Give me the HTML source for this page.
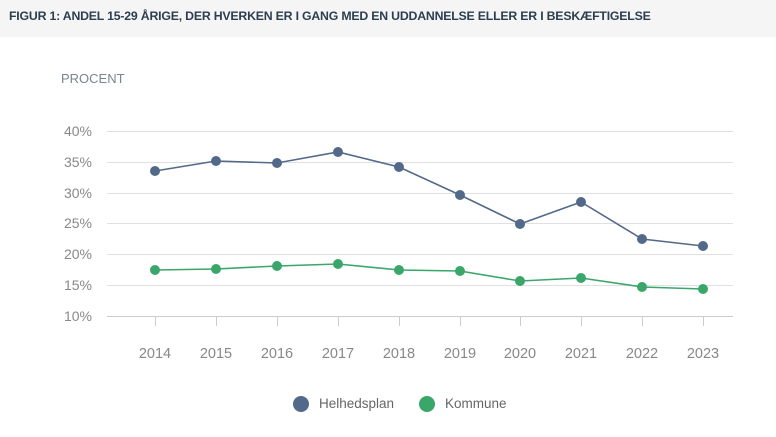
<!DOCTYPE html>
<html><head><style>
body{margin:0;width:776px;height:437px;background:#fff;overflow:hidden;font-family:"Liberation Sans",sans-serif}
.hd{position:absolute;left:0;top:0;width:776px;height:37px;background:#f5f5f5;}
.hd span{position:absolute;left:9px;top:9px;font-size:12.3px;font-weight:bold;color:#2c3e50;letter-spacing:-0.2px;white-space:nowrap}
</style></head><body>
<div class="hd"><span>FIGUR 1: ANDEL 15-29 ÅRIGE, DER HVERKEN ER I GANG MED EN UDDANNELSE ELLER ER I BESKÆFTIGELSE</span></div>
<svg width="776" height="437" style="position:absolute;left:0;top:0">
<g font-family="Liberation Sans,sans-serif" fill="#888" font-size="14">
<text x="61" y="83" font-size="13" fill="#7a8591">PROCENT</text>
<g stroke="#e0e0e0" stroke-width="1">
<line x1="107" x2="733" y1="131.5" y2="131.5"/><line x1="107" x2="733" y1="162.5" y2="162.5"/>
<line x1="107" x2="733" y1="193.5" y2="193.5"/><line x1="107" x2="733" y1="223.5" y2="223.5"/>
<line x1="107" x2="733" y1="254.5" y2="254.5"/><line x1="107" x2="733" y1="285.5" y2="285.5"/>
<line x1="107" x2="733" y1="316.5" y2="316.5" stroke="#ccc"/>
</g>
<g text-anchor="end">
<text x="92" y="136">40%</text><text x="92" y="167">35%</text><text x="92" y="198">30%</text>
<text x="92" y="228">25%</text><text x="92" y="259">20%</text><text x="92" y="290">15%</text><text x="92" y="321">10%</text>
</g>
<g stroke="#ccc"><line x1="155.5" x2="155.5" y1="316" y2="326"/><line x1="216.5" x2="216.5" y1="316" y2="326"/><line x1="277.5" x2="277.5" y1="316" y2="326"/><line x1="338.5" x2="338.5" y1="316" y2="326"/><line x1="399.5" x2="399.5" y1="316" y2="326"/><line x1="460.5" x2="460.5" y1="316" y2="326"/><line x1="520.5" x2="520.5" y1="316" y2="326"/><line x1="581.5" x2="581.5" y1="316" y2="326"/><line x1="642.5" x2="642.5" y1="316" y2="326"/><line x1="703.5" x2="703.5" y1="316" y2="326"/></g>
<g text-anchor="middle" font-size="14.5">
<text x="155" y="358">2014</text><text x="216" y="358">2015</text><text x="277" y="358">2016</text><text x="338" y="358">2017</text><text x="399" y="358">2018</text><text x="460" y="358">2019</text><text x="520" y="358">2020</text><text x="581" y="358">2021</text><text x="642" y="358">2022</text><text x="703" y="358">2023</text>
</g>
<polyline fill="none" stroke="#53698a" stroke-width="1.6" points="155,171 216,161 277,163 338,152 399,167 460,195 520,224 581,202 642,239 703,246"/>
<g fill="#53698a"><circle cx="155" cy="171" r="5"/><circle cx="216" cy="161" r="5"/><circle cx="277" cy="163" r="5"/><circle cx="338" cy="152" r="5"/><circle cx="399" cy="167" r="5"/><circle cx="460" cy="195" r="5"/><circle cx="520" cy="224" r="5"/><circle cx="581" cy="202" r="5"/><circle cx="642" cy="239" r="5"/><circle cx="703" cy="246" r="5"/></g>
<polyline fill="none" stroke="#3aa66a" stroke-width="1.6" points="155,270 216,269 277,266 338,264 399,270 460,271 520,281 581,278 642,287 703,289"/>
<g fill="#3aa66a"><circle cx="155" cy="270" r="5"/><circle cx="216" cy="269" r="5"/><circle cx="277" cy="266" r="5"/><circle cx="338" cy="264" r="5"/><circle cx="399" cy="270" r="5"/><circle cx="460" cy="271" r="5"/><circle cx="520" cy="281" r="5"/><circle cx="581" cy="278" r="5"/><circle cx="642" cy="287" r="5"/><circle cx="703" cy="289" r="5"/></g>
<circle cx="301" cy="404" r="8" fill="#53698a"/><text x="319" y="408" fill="#666" font-size="13.5">Helhedsplan</text>
<circle cx="427" cy="404" r="8" fill="#3aa66a"/><text x="445" y="408" fill="#666" font-size="13.5">Kommune</text>
</g></svg>
</body></html>
